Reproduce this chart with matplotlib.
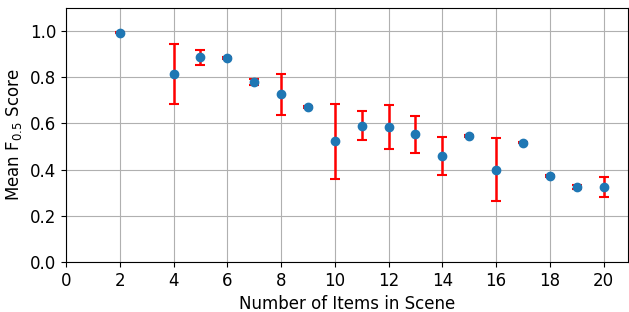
import matplotlib
matplotlib.use("Agg")
import matplotlib.pyplot as plt

num_items = [2, 4, 5, 6, 7, 8, 9, 10, 11, 12, 13, 14, 15, 16, 17, 18, 19, 20]
mean_f05 = [0.993, 0.815, 0.886, 0.884, 0.778, 0.725, 0.672, 0.522, 0.590, 0.584,
            0.552, 0.458, 0.546, 0.399, 0.517, 0.372, 0.326, 0.325]
err_f05 = [0.004, 0.130, 0.033, 0.005, 0.012, 0.090, 0.004, 0.161, 0.064, 0.096,
           0.080, 0.083, 0.005, 0.136, 0.004, 0.004, 0.008, 0.044]

plt.rcParams["font.size"] = 12

fig, ax = plt.subplots(figsize=(6.29, 3.12), dpi=100)
ax.errorbar(num_items, mean_f05, yerr=err_f05, fmt="o", color="#1f77b4",
            ecolor="red", elinewidth=1.8, capsize=3.6, capthick=1.5, markersize=6,
            zorder=3)
ax.set_xlim(0, 20.9)
ax.set_ylim(0, 1.1)
ax.set_xticks(range(0, 21, 2))
ax.set_yticks([0.0, 0.2, 0.4, 0.6, 0.8, 1.0])
ax.grid(True)
ax.set_axisbelow(True)
ax.set_xlabel("Number of Items in Scene")
ax.set_ylabel("Mean F$_{0.5}$ Score")
fig.subplots_adjust(left=0.105, right=0.998, top=0.975, bottom=0.16)
fig.savefig("out.png", dpi=100)
